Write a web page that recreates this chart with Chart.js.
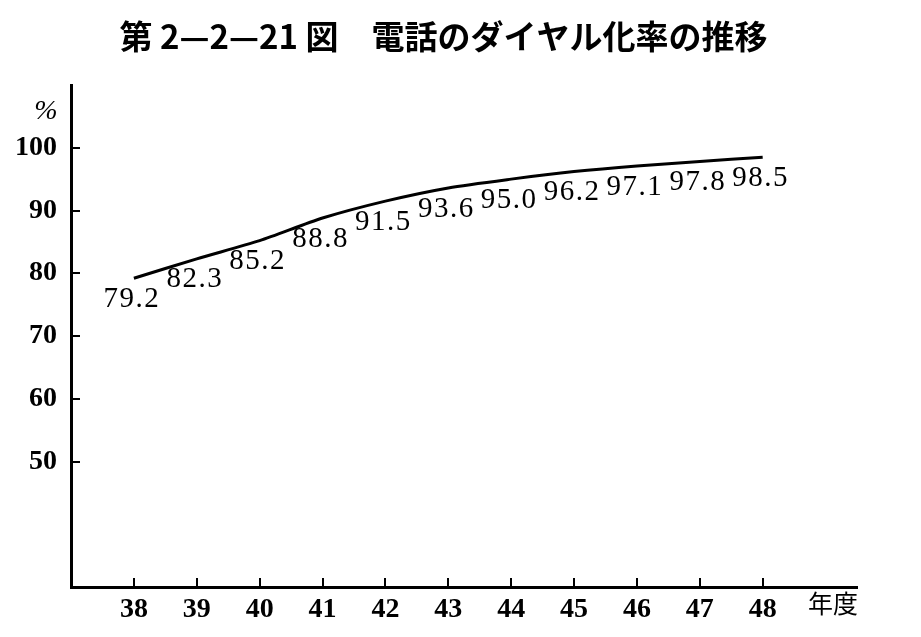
<!DOCTYPE html>
<html>
<head>
<meta charset="utf-8">
<script src="https://cdn.jsdelivr.net/npm/chart.js@4.4.1/dist/chart.umd.min.js"></script>
<style>
  html, body { margin: 0; padding: 0; background: #fff; }
</style>
</head>
<body>
<canvas id="dialChart" width="921" height="637"></canvas>
<script>
// fiscal years (Showa) and dial-ization rate of telephones (%)
const years = [38, 39, 40, 41, 42, 43, 44, 45, 46, 47, 48];
const dialRate = [79.2, 82.3, 85.2, 88.8, 91.5, 93.6, 95.0, 96.2, 97.1, 97.8, 98.5];
const yTicks = [50, 60, 70, 80, 90, 100];
const titleText = '第 2—2—21 図　電話のダイヤル化率の推移';
const yUnit = '%';
const xUnit = '年度';

// draws the value under each point, plus the unit labels next to the axes
const valueLabels = {
  id: 'valueLabels',
  afterDatasetsDraw(chart) {
    const ctx = chart.ctx;
    const area = chart.chartArea;
    const meta = chart.getDatasetMeta(0);
    ctx.save();
    ctx.fillStyle = '#000';
    ctx.textAlign = 'center';
    ctx.textBaseline = 'middle';
    ctx.font = '29px "Liberation Serif"';
    ctx.letterSpacing = '1.5px';
    meta.data.forEach((pt, i) => {
      ctx.fillText(dialRate[i].toFixed(1), pt.x - 2, pt.y + 21);
    });
    ctx.letterSpacing = '0px';
    ctx.font = 'italic 28px "Liberation Serif"';
    ctx.fillText(yUnit, area.left - 25, area.top + 27);
    ctx.font = '25px "Noto Sans CJK JP"';
    ctx.fillText(xUnit, area.right - 24, area.bottom + 16);
    ctx.restore();
  }
};

const tickFont = { family: 'Liberation Serif', size: 28, weight: 'bold' };

new Chart(document.getElementById('dialChart').getContext('2d'), {
  type: 'line',
  data: {
    datasets: [{
      label: 'ダイヤル化率',
      data: years.map((y, i) => ({ x: y, y: dialRate[i] })),
      borderColor: '#000',
      borderWidth: 3,
      pointRadius: 0,
      tension: 0.25,
      fill: false
    }]
  },
  options: {
    responsive: false,
    devicePixelRatio: 1,
    animation: false,
    layout: { padding: { left: 0, right: 34, top: 0, bottom: 0 } },
    plugins: {
      legend: { display: false },
      tooltip: { enabled: false },
      title: {
        display: true,
        text: titleText,
        color: '#000',
        font: { family: 'Noto Sans CJK JP', size: 33, weight: 'bold', lineHeight: 1.2 },
        padding: { top: 17, bottom: 28.4 }
      }
    },
    scales: {
      x: {
        type: 'linear',
        min: 37,
        max: 49.5,
        afterBuildTicks: (scale) => { scale.ticks = years.map(v => ({ value: v })); },
        afterFit: (scale) => { scale.height = 50; },
        border: { display: true, color: '#000', width: 3 },
        grid: { drawOnChartArea: false, drawTicks: true, tickLength: -9, color: '#000', lineWidth: 2 },
        ticks: { color: '#000', font: tickFont, padding: 15, maxRotation: 0, autoSkip: false }
      },
      y: {
        min: 30,
        max: 110,
        afterBuildTicks: (scale) => { scale.ticks = yTicks.map(v => ({ value: v })); },
        afterFit: (scale) => { scale.width = 71; },
        border: { display: true, color: '#000', width: 3 },
        grid: { drawOnChartArea: false, drawTicks: true, tickLength: -9, color: '#000', lineWidth: 2 },
        ticks: { color: '#000', font: tickFont, padding: 23, autoSkip: false }
      },
      // empty spacer on the right so the title centres like the original
      spacer: {
        position: 'right',
        display: true,
        afterFit: (scale) => { scale.width = 30; },
        border: { display: false },
        grid: { display: false },
        ticks: { display: false }
      }
    }
  },
  plugins: [valueLabels]
});
</script>
</body>
</html>
